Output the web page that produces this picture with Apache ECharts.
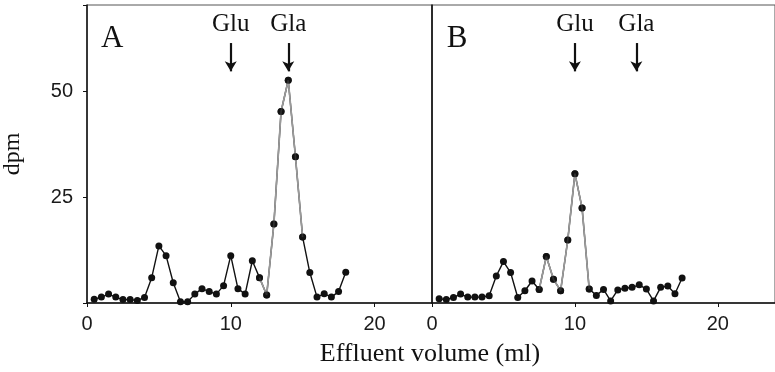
<!DOCTYPE html>
<html>
<head>
<meta charset="utf-8">
<script src="https://cdn.jsdelivr.net/npm/echarts@6/dist/echarts.min.js"></script>
<style>
  html, body { margin: 0; padding: 0; background: #fff; }
  #chart { width: 775px; height: 372px; }
</style>
</head>
<body>
<div id="chart"></div>
<script>
// effluent volume (ml) and counts for each panel
const volumeA = [0.5, 1, 1.5, 2, 2.5, 3, 3.5, 4, 4.5, 5, 5.5, 6, 6.5, 7, 7.5, 8, 8.5, 9,
  9.5, 10, 10.5, 11, 11.5, 12, 12.5, 13, 13.5, 14, 14.5, 15, 15.5, 16, 16.5, 17, 17.5, 18]
const dpmA = [0.9, 1.4, 2.1, 1.4, 0.8, 0.8, 0.6, 1.3, 6.0, 13.5, 11.2, 4.8, 0.3, 0.3, 2.1, 3.4, 2.7, 2.1,
  4.1, 11.2, 3.4, 2.1, 10.0, 6.0, 1.9, 18.7, 45.3, 52.7, 34.6, 15.6, 7.2, 1.4, 2.2, 1.4, 2.7, 7.3]

const volumeB = [0.5, 1, 1.5, 2, 2.5, 3, 3.5, 4, 4.5, 5, 5.5, 6, 6.5, 7, 7.5, 8, 8.5, 9,
  9.5, 10, 10.5, 11, 11.5, 12, 12.5, 13, 13.5, 14, 14.5, 15, 15.5, 16, 16.5, 17, 17.5]
const dpmB = [1.0, 0.8, 1.3, 2.1, 1.4, 1.4, 1.4, 1.7, 6.4, 9.8, 7.2, 1.3, 2.9, 5.2, 3.2, 11.0, 5.6, 2.9,
  14.9, 30.6, 22.5, 3.3, 1.8, 3.2, 0.5, 3.1, 3.5, 3.7, 4.3, 3.3, 0.5, 3.7, 4.0, 2.2, 5.9]

// stretch of each trace printed in grey
const greyRangeA = [12, 15]
const greyRangeB = [7.5, 11]

// standards marked with arrows
const markersA = [{ name: 'Glu', x: 10 }, { name: 'Gla', x: 14 }]
const markersB = [{ name: 'Glu', x: 10 }, { name: 'Gla', x: 14.3 }]

const xTicks = [0, 10, 20]
const yTicks = [25, 50]

const serif = '"Liberation Serif", "DejaVu Serif", serif'
const sans = '"Liberation Sans", Arial, sans-serif'

const pairs = (xs, ys) => xs.map((x, i) => [x, ys[i]])
const inRange = (data, range) => data.filter((p) => p[0] >= range[0] && p[0] <= range[1])

function traceSeries(idx, data, range, markers, letter) {
  return [
    {
      type: 'line',
      xAxisIndex: idx,
      yAxisIndex: idx,
      data: data,
      symbol: 'circle',
      symbolSize: 7,
      itemStyle: { color: '#111' },
      lineStyle: { color: '#111', width: 1.4 },
      z: 3,
      animation: false,
      markLine: {
        silent: true,
        animation: false,
        symbol: ['none', 'arrow'],
        symbolSize: [9, 10],
        lineStyle: { color: '#111', width: 2.2, type: 'solid' },
        label: { show: false },
        data: markers.map((m) => [{ coord: [m.x, 61.5] }, { coord: [m.x, 54.8] }]),
      },
      markPoint: {
        silent: true,
        animation: false,
        symbol: 'circle',
        symbolSize: 0,
        label: {
          show: true,
          position: 'inside',
          color: '#111',
          fontFamily: serif,
          fontSize: 25,
          formatter: (p) => p.name,
        },
        data: markers
          .map((m) => ({ name: m.name, coord: [m.x, 66] }))
          .concat([{ name: letter, coord: [1.75, 62.5], label: { fontSize: 31 } }]),
      },
    },
    {
      type: 'line',
      xAxisIndex: idx,
      yAxisIndex: idx,
      data: inRange(data, range),
      symbol: 'none',
      lineStyle: { color: '#9a9a9a', width: 1.7 },
      z: 4,
      animation: false,
    },
    {
      type: 'scatter',
      xAxisIndex: idx,
      yAxisIndex: idx,
      data: inRange(data, range),
      symbol: 'circle',
      symbolSize: 7,
      itemStyle: { color: '#111' },
      z: 5,
      animation: false,
    },
  ]
}

function xAxis(idx) {
  return {
    type: 'value',
    gridIndex: idx,
    min: 0,
    max: 24,
    interval: 10,
    axisLine: { lineStyle: { color: '#111', width: 1.5 } },
    axisTick: { show: true, length: 4, lineStyle: { color: '#111' } },
    axisLabel: {
      color: '#1a1a1a',
      fontFamily: sans,
      fontSize: 20,
      margin: 11,
      showMaxLabel: false,
      formatter: (v) => (xTicks.includes(v) ? String(v) : ''),
    },
    splitLine: { show: false },
  }
}

function yAxis(idx, labels) {
  return {
    type: 'value',
    gridIndex: idx,
    min: 0,
    max: 70.5,
    interval: 25,
    name: labels ? 'dpm' : '',
    nameLocation: 'middle',
    nameRotate: 90,
    nameGap: 62,
    nameTextStyle: { color: '#111', fontFamily: serif, fontSize: 24 },
    axisLine: { show: true, lineStyle: { color: '#111', width: 1.5 } },
    axisTick: { show: labels, length: 4, lineStyle: { color: '#111' } },
    axisLabel: {
      show: labels,
      color: '#1a1a1a',
      fontFamily: sans,
      fontSize: 20,
      margin: 14,
      formatter: (v) => (yTicks.includes(v) ? String(v) : ''),
    },
    splitLine: { show: false },
  }
}

const chart = echarts.init(document.getElementById('chart'), null, { renderer: 'canvas' })

chart.setOption({
  backgroundColor: '#fff',
  animation: false,
  grid: [
    { left: 87, top: 5, width: 345, height: 298, show: true, borderColor: '#555', borderWidth: 1 },
    { left: 432, top: 5, width: 343, height: 298, show: true, borderColor: '#555', borderWidth: 1 },
  ],
  xAxis: [xAxis(0), xAxis(1)],
  yAxis: [yAxis(0, true), yAxis(1, false)],
  series: [
    ...traceSeries(0, pairs(volumeA, dpmA), greyRangeA, markersA, 'A'),
    ...traceSeries(1, pairs(volumeB, dpmB), greyRangeB, markersB, 'B'),
  ],
  graphic: [
    {
      type: 'text',
      x: 430,
      y: 341,
      style: {
        text: 'Effluent volume (ml)',
        fill: '#111',
        font: '26px ' + serif,
        textAlign: 'center',
      },
    },
  ],
})
</script>
</body>
</html>
